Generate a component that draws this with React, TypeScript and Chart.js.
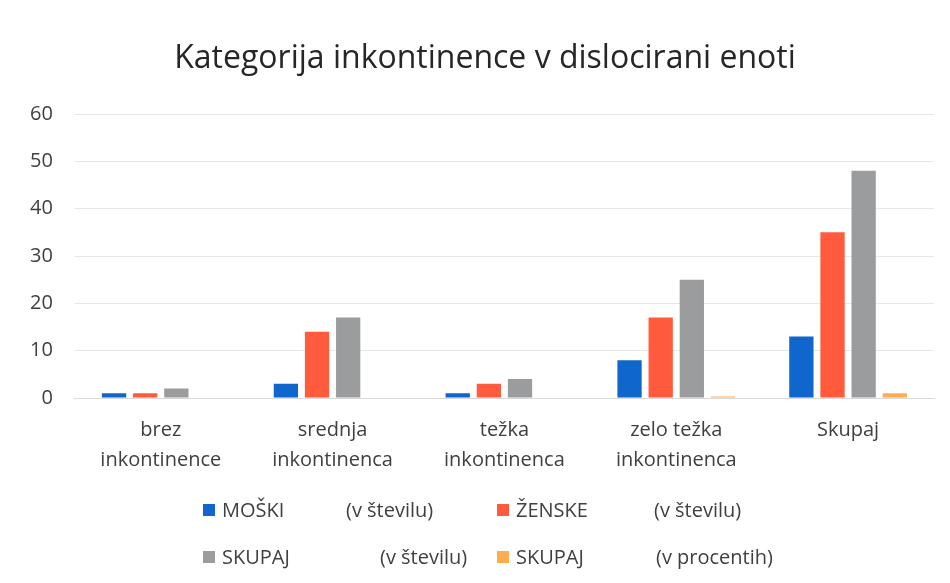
import React, { useEffect, useRef } from "react";
import { Chart, registerables } from "chart.js";

Chart.register(...registerables);

const TITLE = "Kategorija inkontinence v dislocirani enoti";
const CATEGORIES: string[][] = [
  ["brez", "inkontinence"],
  ["srednja", "inkontinenca"],
  ["težka", "inkontinenca"],
  ["zelo težka", "inkontinenca"],
  ["Skupaj"],
];
const MOSKI = [1, 3, 1, 8, 13];
const ZENSKE = [1, 14, 3, 17, 35];
const SKUPAJ = [2, 17, 4, 25, 48];
const SKUPAJ_PCT = [0, 0, 0, 0.3, 1];
const SERIES_NAMES = ["MOŠKI", "ŽENSKE", "SKUPAJ", "SKUPAJ"];
const SERIES_UNITS = ["(v številu)", "(v številu)", "(v številu)", "(v procentih)"];
const COLORS = ["#0f66cc", "#ff5b3c", "#9a9c9e", "#ffab52"];
const Y_MIN = 0;
const Y_MAX = 60;
const Y_STEP = 10;

const FONT = "'Open Sans', Lato, sans-serif";

// legend layout: [boxX, boxY(center), unitX]
const LEGEND_POS = [
  [203, 510, 346],
  [497, 510, 654],
  [203, 557, 380],
  [497, 557, 656],
];
const TITLE_POS = [485, 68];

const decorPlugin = {
  id: "decor",
  afterDraw(chart: any) {
    const ctx = chart.ctx;
    ctx.save();
    // title
    ctx.font = `32px ${FONT}`;
    ctx.fillStyle = "#262626";
    ctx.textAlign = "center";
    ctx.textBaseline = "alphabetic";
    ctx.fillText(TITLE, TITLE_POS[0], TITLE_POS[1]);
    // legend
    ctx.font = `20px ${FONT}`;
    ctx.textBaseline = "middle";
    ctx.textAlign = "left";
    chart.data.datasets.forEach((ds: any, i: number) => {
      const [bx, by, ux] = LEGEND_POS[i];
      ctx.fillStyle = ds.backgroundColor;
      ctx.fillRect(bx, by - 6, 12, 12);
      ctx.fillStyle = "#404040";
      ctx.fillText(SERIES_NAMES[i], bx + 19, by + 1);
      ctx.fillText(SERIES_UNITS[i], ux, by + 1);
    });
    ctx.restore();
  },
};

export default function App() {
  const ref = useRef<HTMLCanvasElement | null>(null);
  useEffect(() => {
    if (!ref.current) return;
    const chart = new Chart(ref.current, {
      type: "bar",
      data: {
        labels: CATEGORIES,
        datasets: [
          { label: SERIES_NAMES[0] + " " + SERIES_UNITS[0], data: MOSKI, backgroundColor: COLORS[0] },
          { label: SERIES_NAMES[1] + " " + SERIES_UNITS[1], data: ZENSKE, backgroundColor: COLORS[1] },
          { label: SERIES_NAMES[2] + " " + SERIES_UNITS[2], data: SKUPAJ, backgroundColor: COLORS[2] },
          { label: SERIES_NAMES[3] + " " + SERIES_UNITS[3], data: SKUPAJ_PCT, backgroundColor: COLORS[3] },
        ],
      },
      options: {
        animation: false,
        responsive: true,
        maintainAspectRatio: false,
        datasets: { bar: { categoryPercentage: 0.725, barPercentage: 0.78 } },
        layout: { padding: { left: 8, right: 16, top: 114, bottom: 91 } },
        plugins: {
          legend: { display: false },
          tooltip: { enabled: false },
          title: { display: false },
        },
        scales: {
          x: {
            grid: { display: false, drawTicks: false },
            border: { display: true, color: "#d9d9d9", width: 1 },
            ticks: {
              color: "#404040",
              font: { family: FONT, size: 20, lineHeight: 1.5 },
              padding: 17,
              maxRotation: 0,
              autoSkip: false,
            },
          },
          y: {
            min: Y_MIN,
            max: Y_MAX,
            ticks: {
              stepSize: Y_STEP,
              color: "#404040",
              font: { family: FONT, size: 20 },
              padding: 22,
            },
            grid: { color: "#e6e6e6", drawTicks: false },
            border: { display: false },
          },
        },
      },
      plugins: [decorPlugin],
    });
    return () => chart.destroy();
  }, []);
  return (
    <div style={{ position: "fixed", left: 0, top: 0, width: 950, height: 583, background: "#fff" }}>
      <canvas ref={ref} />
    </div>
  );
}
